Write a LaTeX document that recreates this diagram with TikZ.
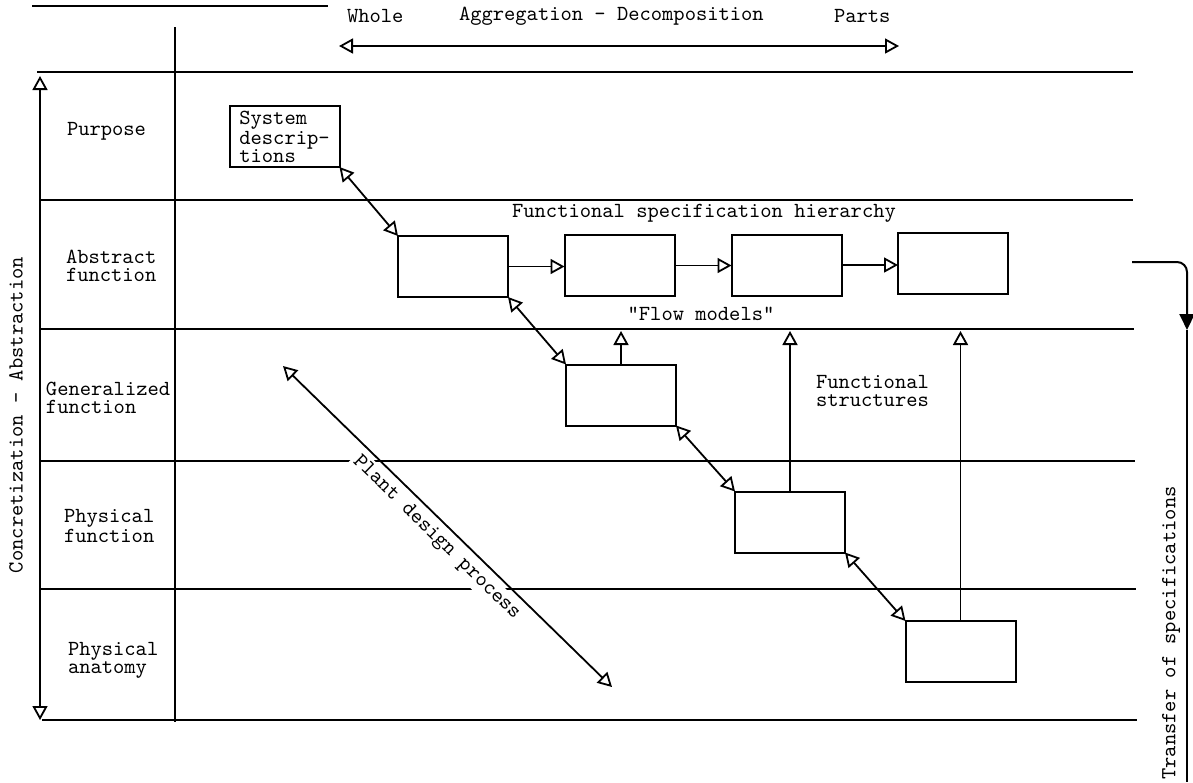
\documentclass[tikz,border=0pt]{standalone}
\usetikzlibrary{arrows.meta}
\begin{document}
\begin{tikzpicture}[x=0.5pt,y=-0.5pt,
  every node/.style={font=\ttfamily\fontsize{10.75}{9}\selectfont, inner sep=0pt, outer sep=0pt},
  ln/.style={line width=1pt},
  box/.style={draw, line width=1pt, minimum width=55pt, minimum height=30.5pt},
  otip/.tip={Triangle[open,length=7pt,width=7.5pt]},
  oa/.style={-otip, line width=0.9pt},
  dba/.style={otip-otip, line width=0.9pt},
  lbl/.style={align=left, anchor=west}]
\useasboundingbox (0,0) rectangle (1193,782);

% grid lines
\draw[ln] (32,6) -- (328,6);
\draw[ln] (37,72) -- (1133,72);
\draw[ln] (40,200) -- (1133,200);
\draw[ln] (40,329) -- (1134,329);
\draw[ln] (40,461) -- (1135,461);
\draw[ln] (40,589) -- (1136,589);
\draw[ln] (42,720) -- (1137,720);
\draw[ln] (175,27) -- (175,722);

% left axis
\coordinate (ct) at (40,76);
\coordinate (cb) at (40,720);
\draw[dba] (ct) -- (cb);
\node[rotate=90] (conc) at (16,415) {Concretization - Abstraction};

% header
\node[anchor=west] (whole) at (347,16) {Whole};
\node[anchor=west] (agg) at (459,16) {Aggregation - Decomposition};
\node[anchor=west] (parts) at (834,16) {Parts};
\coordinate (hl) at (339,46);
\coordinate (hr) at (899,46);
\draw[dba] (hl) -- (hr);

% row labels
\node[lbl] (r1) at (67,131) {Purpose};
\node[lbl] (r2) at (66,266) {Abstract\\function};
\node[lbl] (r3) at (46,398) {Generalized\\function};
\node[lbl] (r4) at (64,526) {Physical\\function};
\node[lbl] (r5) at (68,660) {Physical\\anatomy};

% boxes
\node[box, align=left] (sd) at (284.5,136.5) {System\\descrip-\\tions};
\node[box] (a1) at (453,266.5) {};
\node[box] (a2) at (619.5,265.5) {};
\node[box] (a3) at (786.5,265) {};
\node[box] (a4) at (953,263.5) {};
\node[box] (g) at (621,395) {};
\node[box] (p) at (790,522) {};
\node[box] (an) at (960.5,651.5) {};

% texts
\node (fsh) at (704,213) {Functional specification hierarchy};
\node (fm) at (701,314) {"Flow models"};
\node[lbl] (fs) at (816,391) {Functional\\structures};

% connectors
\draw[dba] (sd.south east) -- (a1.north west);
\draw[dba] (a1.south east) -- (g.north west);
\draw[dba] (g.south east) -- (p.north west);
\draw[dba] (p.south east) -- (an.north west);
\draw[oa] (a1.east) -- (a1.east -| a2.west);
\draw[oa] (a2.east) -- (a2.east -| a3.west);
\draw[oa] (a3.east) -- (a3.east -| a4.west);
\coordinate (fl) at (0,331);
\draw[oa] (g.north) -- (g.north |- fl);
\draw[oa] (p.north) -- (p.north |- fl);
\draw[oa] (an.north) -- (an.north |- fl);

% plant design process
\coordinate (pd1) at (283,366);
\coordinate (pd2) at (612,687);
\draw[dba] (pd1) -- node[midway, sloped, below=2pt, behind path, fill=white, inner sep=1.5pt] (pdp) {Plant design process} (pd2);

% transfer of specifications
\coordinate (t1) at (1132,262);
\coordinate (t2) at (1187,330);
\coordinate (t3) at (1187,782);
\draw[line width=1pt, -{Triangle[length=8pt,width=7.5pt]}, rounded corners=5pt] (t1) -| (t2);
\draw[ln] (t2) -- (t3);
\node[rotate=90] (tos) at (1171,633) {Transfer of specifications};
\end{tikzpicture}
\end{document}
